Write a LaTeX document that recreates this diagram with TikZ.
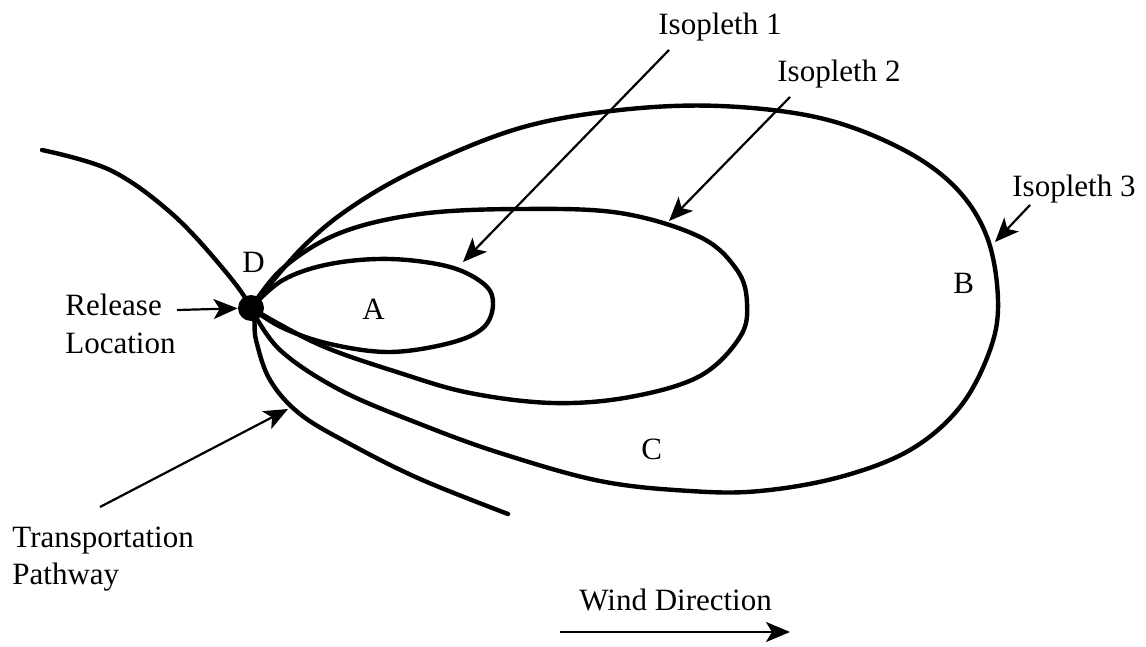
\documentclass[tikz,border=0pt]{standalone}
\usepackage{fontspec}
\setmainfont{Liberation Serif}
\usetikzlibrary{arrows.meta}
\begin{document}
\begin{tikzpicture}[x=0.5pt,y=-0.5pt,
  curve/.style={line width=2.2pt, line cap=round, line join=round},
  pointer/.style={line width=1.1pt, -{Stealth[length=12pt,width=10pt,inset=3pt]}},
  lbl/.style={font=\fontsize{15.5}{18.5}\selectfont, inner sep=0pt, anchor=base west}]
\useasboundingbox (0,0) rectangle (1146,647);

% transportation pathway
\draw[curve] plot[smooth, tension=0.6] coordinates {(42,150) (110,170) (170,212) (220,265) (251,308) (256,340) (270,380) (300,414) (350,444) (420,479) (508,514)};

% isopleth 1
\draw[curve] plot[smooth, tension=0.6] coordinates {(251,308) (283,280) (330,264) (390,259) (450,267) (485,285) (493,305) (483,328) (450,343) (390,352) (330,344) (283,328) (251,308)};

% isopleth 2
\draw[curve] plot[smooth, tension=0.6] coordinates {(251,308) (283,268) (340,233) (420,214) (520,209) (620,213) (700,237) (737,270) (747,303) (740,337) (700,376) (630,397) (553,403) (470,393) (400,373) (320,345) (251,308)};

% isopleth 3
\draw[curve] plot[smooth, tension=0.6] coordinates {(251,308) (300,250) (350,208) (420,168) (520,128) (620,110) (720,106) (820,118) (900,148) (955,187) (987,237) (998,300) (990,350) (960,407) (910,450) (840,477) (760,491) (690,491) (600,481) (500,453) (420,424) (340,390) (280,350) (251,308)};

% release point
\node[circle, fill=black, minimum size=13pt, inner sep=0pt] (rel) at (251,308) {};

% labels
\node[lbl] (iso1) at (658,35) {Isopleth 1};
\node[lbl] (iso2) at (777,82) {Isopleth 2};
\node[lbl] (iso3) at (1012,197) {Isopleth 3};
\node[lbl] (d) at (242,272) {D};
\node[lbl] (a) at (362,319) {A};
\node[lbl] (b) at (953,293) {B};
\node[lbl] (c) at (641,459) {C};
\node[lbl] (rl1) at (65,315) {Release};
\node[lbl] (rl2) at (65,353) {Location};
\node[lbl] (tp1) at (12,547) {Transportation};
\node[lbl] (tp2) at (12,584) {Pathway};
\node[lbl] (wind) at (579,610) {Wind Direction};

% arrow ends
\coordinate (i1s) at (669,50);   \coordinate (i1e) at (463,262);
\coordinate (i2s) at (790,97);   \coordinate (i2e) at (669,221);
\coordinate (i3s) at (1030,205); \coordinate (i3e) at (995,242);
\coordinate (rls) at (177,310);
\coordinate (tps) at (100,507);  \coordinate (tpe) at (288,409);
\coordinate (ws) at (560,632);   \coordinate (we) at (790,632);

\draw[pointer] (i1s) -- (i1e);
\draw[pointer] (i2s) -- (i2e);
\draw[pointer] (i3s) -- (i3e);
\draw[pointer] (rls) -- (rel);
\draw[pointer] (tps) -- (tpe);
\draw[pointer] (ws) -- (we);
\end{tikzpicture}
\end{document}
